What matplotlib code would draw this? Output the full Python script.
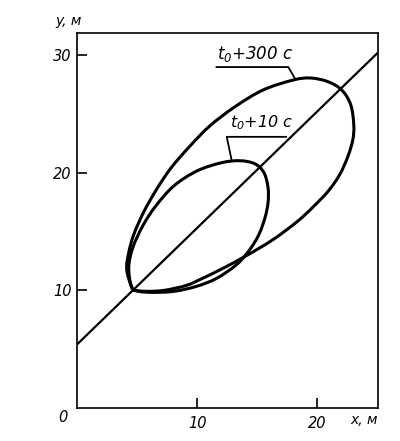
import matplotlib
matplotlib.use("Agg")
import matplotlib.pyplot as plt
import numpy as np
from matplotlib.path import Path
from matplotlib.patches import PathPatch

plt.rcParams['font.family'] = ['DejaVu Sans']
plt.rcParams['font.style'] = 'italic'
plt.rcParams['mathtext.fontset'] = 'dejavusans'
plt.rcParams['mathtext.default'] = 'it'

# straight line (axis of the cloud)
line_x = [0.0, 25.05]
line_y = [5.4, 30.2]

# contour t0 + 300 s (closed)
outer_x = [4.56, 4.14, 4.31, 4.73, 5.57, 6.66, 7.84, 9.35, 11.03, 13.13, 15.49,
           18.01, 19.44, 20.87, 22.05, 22.80, 23.05, 22.97, 22.55, 21.87, 20.95,
           19.69, 18.34, 16.33, 14.14, 12.13, 10.45, 9.10, 7.25, 5.82, 4.90]
outer_y = [10.25, 11.78, 13.22, 14.75, 16.69, 18.64, 20.42, 22.20, 23.95, 25.59, 27.03,
           27.88, 28.05, 27.75, 27.03, 25.76, 24.07, 22.80, 21.36, 19.83, 18.47,
           17.12, 15.85, 14.32, 12.97, 11.86, 11.02, 10.42, 10.00, 9.92, 10.00]

# contour t0 + 10 s (closed)
inner_x = [4.56, 4.31, 4.65, 5.49, 6.58, 8.09, 10.03, 12.04, 13.55, 14.81, 15.57,
           15.91, 15.91, 15.66, 15.15, 14.39, 13.30, 11.62, 9.94, 8.09, 6.41, 5.15]
inner_y = [10.25, 11.95, 13.64, 15.51, 17.20, 18.90, 20.17, 20.85, 21.02, 20.76, 20.00,
           18.73, 17.46, 16.19, 14.75, 13.47, 12.20, 11.02, 10.34, 9.92, 9.83, 9.92]

# leader lines for the labels
lead300_x = [11.62, 17.6, 18.17]
lead300_y = [28.98, 28.98, 27.97]
lead10_x = [12.88, 12.47, 17.42]
lead10_y = [21.05, 23.05, 23.05]


def closed_curve(xs, ys):
    # smooth closed bezier path through the read points (catmull-rom tangents)
    p = np.column_stack([xs, ys])
    n = len(p)
    verts = [p[0]]
    codes = [Path.MOVETO]
    for i in range(n):
        p0, p1, p2, p3 = p[i - 1], p[i], p[(i + 1) % n], p[(i + 2) % n]
        verts += [p1 + (p2 - p0) / 6, p2 - (p3 - p1) / 6, p2]
        codes += [Path.CURVE4] * 3
    return Path(verts, codes)


fig = plt.figure(figsize=(4, 4.41), dpi=100)
ax = fig.add_axes([0.1925, 0.0748, 0.752, 0.851])

ax.plot(line_x, line_y, color='black', lw=1.6, solid_capstyle='butt')
for xs, ys in [(outer_x, outer_y), (inner_x, inner_y)]:
    ax.add_patch(PathPatch(closed_curve(xs, ys), facecolor='none', edgecolor='black',
                           lw=2.2, joinstyle='round'))
ax.plot(lead300_x, lead300_y, color='black', lw=1.3)
ax.plot(lead10_x, lead10_y, color='black', lw=1.3)

ax.text(11.65, 29.25, r'$t_0$+300 c', fontsize=12, ha='left', va='bottom')
ax.text(12.7, 23.45, r'$t_0$+10 c', fontsize=11.5, ha='left', va='bottom')

ax.set_xlim(0, 25.05)
ax.set_ylim(0, 31.9)
ax.set_xticks([10, 20])
ax.set_yticks([10, 20, 30])
ax.tick_params(direction='in', length=7, width=1.2, labelsize=10.5)
ax.tick_params(axis='x', pad=6)
ax.tick_params(axis='y', pad=4)
for s in ax.spines.values():
    s.set_linewidth(1.2)

fig.text(55 / 400, 1 - 21 / 441, 'y, м', fontsize=10, ha='left', va='center')
fig.text(350 / 400, 1 - 420 / 441, 'x, м', fontsize=10, ha='left', va='center')
fig.text(63 / 400, 1 - 417 / 441, '0', fontsize=10.5, ha='center', va='center')

fig.savefig('out.png', dpi=100)
